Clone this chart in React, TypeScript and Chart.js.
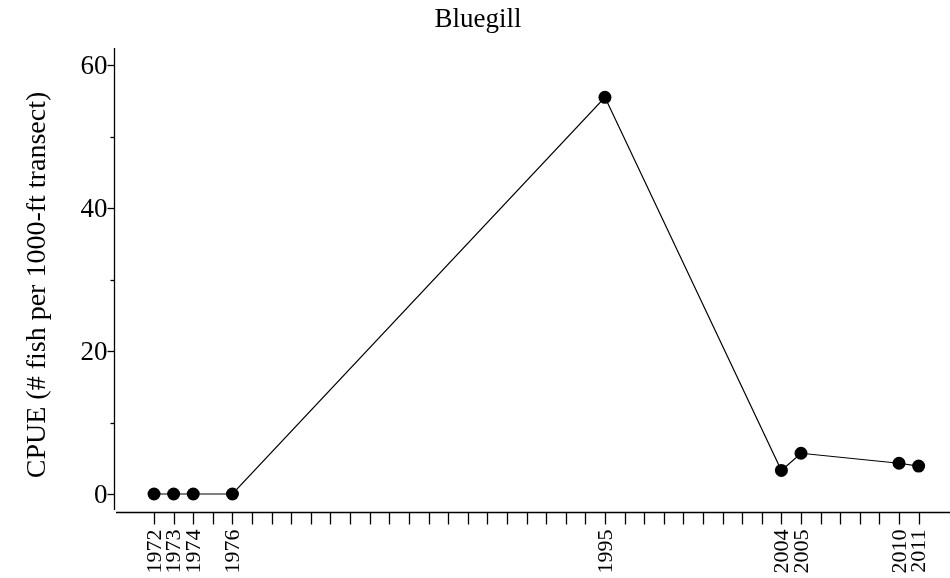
import React, { useEffect, useRef } from "react";
import { Chart, registerables } from "chart.js";

Chart.register(...registerables);

const years = [1972, 1973, 1974, 1976, 1995, 2004, 2005, 2010, 2011];
const cpue = [0, 0, 0, 0, 55.5, 3.3, 5.7, 4.3, 3.9];
const yMajorTicks = [0, 20, 40, 60];
const yMinorTicks = [10, 30, 50];
const xTickStart = 1972;
const xTickEnd = 2011;
const titleText = "Bluegill";
const yTitle = "CPUE (# fish per 1000-ft transect)";

const FONT = '"Liberation Serif", "Times New Roman", serif';

const axesPlugin = {
  id: "baseAxes",
  afterDraw(chart: any) {
    const ctx = chart.ctx;
    const xs = chart.scales.x;
    const ys = chart.scales.y;
    const area = chart.chartArea;
    ctx.save();
    ctx.strokeStyle = "#000";
    ctx.fillStyle = "#000";
    ctx.lineWidth = 1.3;

    // y axis line
    const yAxisX = 114.5;
    ctx.beginPath();
    ctx.moveTo(yAxisX, area.top);
    ctx.lineTo(yAxisX, area.bottom - 2);
    ctx.stroke();
    // y ticks
    ctx.font = `27px ${FONT}`;
    ctx.textAlign = "right";
    ctx.textBaseline = "middle";
    yMajorTicks.forEach((v) => {
      const py = Math.round(ys.getPixelForValue(v)) + 0.5;
      ctx.beginPath();
      ctx.moveTo(yAxisX - 7, py);
      ctx.lineTo(yAxisX, py);
      ctx.stroke();
      ctx.fillText(String(v), yAxisX - 7, py + 1);
    });
    yMinorTicks.forEach((v) => {
      const py = Math.round(ys.getPixelForValue(v)) + 0.5;
      ctx.beginPath();
      ctx.moveTo(yAxisX - 4, py);
      ctx.lineTo(yAxisX, py);
      ctx.stroke();
    });

    // x axis line
    const xAxisY = area.bottom + 0.5;
    ctx.beginPath();
    ctx.moveTo(area.left, xAxisY);
    ctx.lineTo(area.right, xAxisY);
    ctx.stroke();
    for (let yr = xTickStart; yr <= xTickEnd; yr++) {
      const px = Math.round(xs.getPixelForValue(yr)) + 0.5;
      ctx.beginPath();
      ctx.moveTo(px, xAxisY);
      ctx.lineTo(px, xAxisY + 12);
      ctx.stroke();
    }
    // x labels
    ctx.font = `22px ${FONT}`;
    ctx.textAlign = "right";
    ctx.textBaseline = "middle";
    years.forEach((yr) => {
      const px = xs.getPixelForValue(yr);
      ctx.save();
      ctx.translate(px + 1, xAxisY + 17);
      ctx.rotate(-Math.PI / 2);
      ctx.fillText(String(yr), 0, 0);
      ctx.restore();
    });

    // title
    ctx.font = `27px ${FONT}`;
    ctx.textAlign = "center";
    ctx.textBaseline = "middle";
    ctx.fillText(titleText, 478, 20);

    // y title
    ctx.save();
    ctx.translate(38, 285);
    ctx.rotate(-Math.PI / 2);
    ctx.font = `28px ${FONT}`;
    ctx.fillText(yTitle, 0, 0);
    ctx.restore();

    ctx.restore();
  },
};

export default function App() {
  const ref = useRef<HTMLCanvasElement>(null);
  useEffect(() => {
    if (!ref.current) return;
    const chart = new Chart(ref.current, {
      type: "line",
      data: {
        datasets: [
          {
            data: years.map((y, i) => ({ x: y, y: cpue[i] })),
            borderColor: "#000",
            backgroundColor: "#000",
            borderWidth: 1.2,
            pointRadius: 6.5,
            pointBackgroundColor: "#000",
            pointBorderWidth: 0,
            tension: 0,
          },
        ],
      },
      options: {
        animation: false,
        responsive: false,
        maintainAspectRatio: false,
        layout: { autoPadding: false, padding: { left: 116, right: 0, top: 48, bottom: 66 } },
        plugins: { legend: { display: false }, tooltip: { enabled: false }, title: { display: false } },
        scales: {
          x: { type: "linear", display: false, min: 1970.06, max: 2012.6 },
          y: { type: "linear", display: false, min: -2.52, max: 62.4 },
        },
      },
      plugins: [axesPlugin],
    });
    return () => chart.destroy();
  }, []);
  return (
    <div style={{ position: "fixed", left: 0, top: 0, width: 950, height: 578, background: "#fff" }}>
      <canvas ref={ref} width={950} height={578} style={{ width: 950, height: 578 }} />
    </div>
  );
}
